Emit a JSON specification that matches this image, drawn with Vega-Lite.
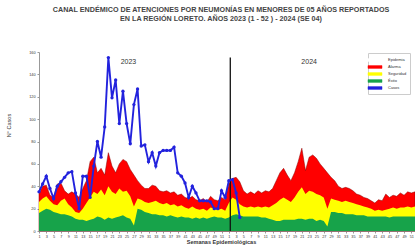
{
  "$schema": "https://vega.github.io/schema/vega-lite/v6.json",
  "width": 376,
  "height": 179,
  "autosize": {"type": "none"},
  "padding": {"left": 39, "top": 52, "right": 0, "bottom": 15},
  "background": "white",
  "config": {"view": {"stroke": null}, "font": "Liberation Sans", "axis": {"labelOverlap": false, "labelBound": false, "labelFlush": false}},
  "title": {
    "text": ["CANAL ENDÉMICO DE ATENCIONES POR NEUMONÍAS EN MENORES DE 05 AÑOS REPORTADOS", "EN LA REGIÓN LORETO. AÑOS 2023 (1 - 52 ) - 2024 (SE 04)"],
    "fontSize": 7.2,
    "fontWeight": "bold",
    "color": "#444444",
    "anchor": "middle",
    "frame": "group",
    "dx": -6,
    "offset": 28,
    "lineHeight": 9
  },
  "datasets": {
    "canal": [
      {"i":1,"Exito":16,"Seguridad":26,"Alarma":33},
      {"i":2,"Exito":18,"Seguridad":29,"Alarma":40},
      {"i":3,"Exito":20,"Seguridad":31,"Alarma":41},
      {"i":4,"Exito":19,"Seguridad":27,"Alarma":32},
      {"i":5,"Exito":17,"Seguridad":24,"Alarma":30},
      {"i":6,"Exito":16,"Seguridad":23,"Alarma":42},
      {"i":7,"Exito":15,"Seguridad":27,"Alarma":43},
      {"i":8,"Exito":15,"Seguridad":29,"Alarma":36},
      {"i":9,"Exito":14,"Seguridad":24,"Alarma":33},
      {"i":10,"Exito":13,"Seguridad":21,"Alarma":35},
      {"i":11,"Exito":11,"Seguridad":17,"Alarma":33},
      {"i":12,"Exito":10,"Seguridad":16,"Alarma":30},
      {"i":13,"Exito":10,"Seguridad":20,"Alarma":38},
      {"i":14,"Exito":9,"Seguridad":25,"Alarma":45},
      {"i":15,"Exito":10,"Seguridad":30,"Alarma":62},
      {"i":16,"Exito":11,"Seguridad":35,"Alarma":66},
      {"i":17,"Exito":13,"Seguridad":33,"Alarma":52},
      {"i":18,"Exito":12,"Seguridad":37,"Alarma":56},
      {"i":19,"Exito":10,"Seguridad":32,"Alarma":50},
      {"i":20,"Exito":12,"Seguridad":40,"Alarma":70},
      {"i":21,"Exito":11,"Seguridad":35,"Alarma":58},
      {"i":22,"Exito":12,"Seguridad":33,"Alarma":52},
      {"i":23,"Exito":13,"Seguridad":38,"Alarma":60},
      {"i":24,"Exito":14,"Seguridad":35,"Alarma":64},
      {"i":25,"Exito":12,"Seguridad":36,"Alarma":62},
      {"i":26,"Exito":11,"Seguridad":31,"Alarma":55},
      {"i":27,"Exito":5,"Seguridad":22,"Alarma":50},
      {"i":28,"Exito":20,"Seguridad":29,"Alarma":45},
      {"i":29,"Exito":19,"Seguridad":28,"Alarma":41},
      {"i":30,"Exito":17,"Seguridad":26,"Alarma":38},
      {"i":31,"Exito":16,"Seguridad":25,"Alarma":38},
      {"i":32,"Exito":15,"Seguridad":26,"Alarma":41},
      {"i":33,"Exito":15,"Seguridad":27,"Alarma":40},
      {"i":34,"Exito":14,"Seguridad":25,"Alarma":36},
      {"i":35,"Exito":14,"Seguridad":24,"Alarma":35},
      {"i":36,"Exito":13,"Seguridad":25,"Alarma":36},
      {"i":37,"Exito":14,"Seguridad":23,"Alarma":34},
      {"i":38,"Exito":13,"Seguridad":24,"Alarma":35},
      {"i":39,"Exito":12,"Seguridad":22,"Alarma":32},
      {"i":40,"Exito":13,"Seguridad":23,"Alarma":33},
      {"i":41,"Exito":12,"Seguridad":21,"Alarma":30},
      {"i":42,"Exito":12,"Seguridad":20,"Alarma":29},
      {"i":43,"Exito":11,"Seguridad":22,"Alarma":31},
      {"i":44,"Exito":12,"Seguridad":20,"Alarma":28},
      {"i":45,"Exito":11,"Seguridad":19,"Alarma":27},
      {"i":46,"Exito":12,"Seguridad":20,"Alarma":29},
      {"i":47,"Exito":11,"Seguridad":18,"Alarma":26},
      {"i":48,"Exito":12,"Seguridad":21,"Alarma":31},
      {"i":49,"Exito":13,"Seguridad":20,"Alarma":28},
      {"i":50,"Exito":12,"Seguridad":19,"Alarma":27},
      {"i":51,"Exito":12,"Seguridad":20,"Alarma":30},
      {"i":52,"Exito":11,"Seguridad":18,"Alarma":28},
      {"i":53,"Exito":12,"Seguridad":25,"Alarma":42},
      {"i":54,"Exito":14,"Seguridad":30,"Alarma":47},
      {"i":55,"Exito":15,"Seguridad":28,"Alarma":48},
      {"i":56,"Exito":14,"Seguridad":24,"Alarma":44},
      {"i":57,"Exito":13,"Seguridad":22,"Alarma":36},
      {"i":58,"Exito":13,"Seguridad":21,"Alarma":33},
      {"i":59,"Exito":13,"Seguridad":22,"Alarma":35},
      {"i":60,"Exito":13,"Seguridad":21,"Alarma":33},
      {"i":61,"Exito":13,"Seguridad":22,"Alarma":36},
      {"i":62,"Exito":12,"Seguridad":21,"Alarma":34},
      {"i":63,"Exito":12,"Seguridad":22,"Alarma":36},
      {"i":64,"Exito":11,"Seguridad":21,"Alarma":35},
      {"i":65,"Exito":10,"Seguridad":23,"Alarma":38},
      {"i":66,"Exito":9,"Seguridad":25,"Alarma":45},
      {"i":67,"Exito":9,"Seguridad":28,"Alarma":52},
      {"i":68,"Exito":10,"Seguridad":30,"Alarma":56},
      {"i":69,"Exito":10,"Seguridad":28,"Alarma":50},
      {"i":70,"Exito":10,"Seguridad":26,"Alarma":45},
      {"i":71,"Exito":10,"Seguridad":30,"Alarma":52},
      {"i":72,"Exito":11,"Seguridad":35,"Alarma":62},
      {"i":73,"Exito":11,"Seguridad":39,"Alarma":74},
      {"i":74,"Exito":10,"Seguridad":33,"Alarma":54},
      {"i":75,"Exito":11,"Seguridad":36,"Alarma":66},
      {"i":76,"Exito":11,"Seguridad":35,"Alarma":68},
      {"i":77,"Exito":9,"Seguridad":33,"Alarma":65},
      {"i":78,"Exito":10,"Seguridad":32,"Alarma":60},
      {"i":79,"Exito":9,"Seguridad":30,"Alarma":56},
      {"i":80,"Exito":4,"Seguridad":20,"Alarma":52},
      {"i":81,"Exito":17,"Seguridad":29,"Alarma":48},
      {"i":82,"Exito":17,"Seguridad":28,"Alarma":45},
      {"i":83,"Exito":16,"Seguridad":27,"Alarma":40},
      {"i":84,"Exito":16,"Seguridad":26,"Alarma":38},
      {"i":85,"Exito":15,"Seguridad":27,"Alarma":39},
      {"i":86,"Exito":15,"Seguridad":26,"Alarma":38},
      {"i":87,"Exito":15,"Seguridad":25,"Alarma":36},
      {"i":88,"Exito":14,"Seguridad":24,"Alarma":33},
      {"i":89,"Exito":14,"Seguridad":23,"Alarma":32},
      {"i":90,"Exito":14,"Seguridad":22,"Alarma":30},
      {"i":91,"Exito":13,"Seguridad":21,"Alarma":29},
      {"i":92,"Exito":13,"Seguridad":20,"Alarma":27},
      {"i":93,"Exito":13,"Seguridad":18,"Alarma":25},
      {"i":94,"Exito":13,"Seguridad":19,"Alarma":28},
      {"i":95,"Exito":13,"Seguridad":18,"Alarma":27},
      {"i":96,"Exito":13,"Seguridad":19,"Alarma":33},
      {"i":97,"Exito":12,"Seguridad":20,"Alarma":30},
      {"i":98,"Exito":13,"Seguridad":21,"Alarma":32},
      {"i":99,"Exito":13,"Seguridad":20,"Alarma":31},
      {"i":100,"Exito":13,"Seguridad":21,"Alarma":34},
      {"i":101,"Exito":13,"Seguridad":21,"Alarma":32},
      {"i":102,"Exito":13,"Seguridad":22,"Alarma":35},
      {"i":103,"Exito":13,"Seguridad":21,"Alarma":34},
      {"i":104,"Exito":13,"Seguridad":22,"Alarma":35}
    ],
    "casos": [
      {"i":1,"v":35},{"i":2,"v":42},{"i":3,"v":49},{"i":4,"v":38},
      {"i":5,"v":29},{"i":6,"v":40},{"i":7,"v":44},{"i":8,"v":48},
      {"i":9,"v":52},{"i":10,"v":53},{"i":11,"v":34},{"i":12,"v":20},
      {"i":13,"v":49},{"i":14,"v":49},{"i":15,"v":30},{"i":16,"v":58},
      {"i":17,"v":80},{"i":18,"v":66},{"i":19,"v":93},{"i":20,"v":155},
      {"i":21,"v":119},{"i":22,"v":135},{"i":23,"v":96},{"i":24,"v":125},
      {"i":25,"v":96},{"i":26,"v":78},{"i":27,"v":113},{"i":28,"v":127},
      {"i":29,"v":76},{"i":30,"v":77},{"i":31,"v":62},{"i":32,"v":70},
      {"i":33,"v":58},{"i":34,"v":70},{"i":35,"v":72},{"i":36,"v":72},
      {"i":37,"v":72},{"i":38,"v":75},{"i":39,"v":52},{"i":40,"v":49},
      {"i":41,"v":43},{"i":42,"v":30},{"i":43,"v":40},{"i":44,"v":34},
      {"i":45,"v":27},{"i":46,"v":27},{"i":47,"v":27},{"i":48,"v":26},
      {"i":49,"v":20},{"i":50,"v":20},{"i":51,"v":36},{"i":52,"v":30},
      {"i":53,"v":45},{"i":54,"v":46},{"i":55,"v":34},{"i":56,"v":12}
    ],
    "corte": [{"i":53.4,"v":155}],
    "anios": [{"i":25.5,"v":151,"t":"2023"},{"i":75,"v":151,"t":"2024"}]
  },
  "encoding": {
    "x": {
      "field": "i", "type": "quantitative",
      "scale": {"domain": [1, 104], "nice": false, "zero": false},
      "axis": {
        "title": "Semanas Epidemiológicas",
        "titleFontSize": 5.5, "titleFontWeight": "bold", "titleColor": "#333",
        "titleX": 182, "titleY": 8, "titleBaseline": "top",
        "values": [1,3,5,7,9,11,13,15,17,19,21,23,25,27,29,31,33,35,37,39,41,43,45,47,49,51,53,55,57,59,61,63,65,67,69,71,73,75,77,79,81,83,85,87,89,91,93,95,97,99,101,103],
        "labelExpr": "(datum.value - 1) % 52 + 1",
        "labelFontSize": 3.8, "labelColor": "#333", "labelOverlap": false, "labelAngle": 0,
        "labelPadding": 1, "labelFlush": false, "labelBound": false,
        "tickSize": 2, "tickColor": "#999", "domainColor": "#999", "grid": false
      }
    },
    "y": {
      "field": "v", "type": "quantitative",
      "scale": {"domain": [0, 160], "nice": false},
      "axis": {
        "title": "N° Casos",
        "titleFontSize": 5.5, "titleFontWeight": "normal", "titleColor": "#333",
        "titleX": -31, "titleY": 73, "titleAngle": -90, "titleAlign": "center", "titleBaseline": "middle",
        "values": [0,20,40,60,80,100,120,140,160],
        "labelFontSize": 3.8, "labelColor": "#333", "labelPadding": 2, "labelOverlap": false, "labelFlush": false, "labelBound": false,
        "tickSize": 2, "tickColor": "#999", "domainColor": "#999", "grid": false
      }
    }
  },
  "layer": [
    {
      "data": {"name": "canal"},
      "transform": [{"fold": ["Alarma"], "as": ["serie", "v"]}],
      "mark": {"type": "area", "stroke": "#8b0000", "strokeWidth": 0.5},
      "encoding": {
        "color": {
          "datum": "Alarma",
          "scale": {
            "domain": ["Epidemia", "Alarma", "Seguridad", "Éxito", "Casos"],
            "range": ["#ffffff", "#ff0000", "#ffff00", "#17a34a", "#2222dd"]
          },
          "legend": {
            "title": null, "orient": "none", "legendX": 329, "legendY": 1,
            "symbolType": "M-2,-0.4H2V0.4H-2Z", "symbolSize": 49,
            "symbolStrokeColor": "#999", "symbolStrokeWidth": 0.5, "symbolOpacity": 1,
            "labelFontSize": 4, "labelColor": "#333", "labelOffset": 9,
            "rowPadding": 0, "padding": 3, "offset": 0, "strokeColor": "#cccccc", "fillColor": "#ffffff"
          }
        }
      }
    },
    {
      "data": {"name": "canal"},
      "transform": [{"fold": ["Seguridad"], "as": ["serie", "v"]}],
      "mark": {"type": "area"},
      "encoding": {"color": {"datum": "Seguridad"}}
    },
    {
      "data": {"name": "canal"},
      "transform": [{"fold": ["Exito"], "as": ["serie", "v"]}],
      "mark": {"type": "area"},
      "encoding": {"color": {"datum": "Éxito"}}
    },
    {
      "data": {"name": "corte"},
      "mark": {"type": "rule", "color": "#111111", "strokeWidth": 1.3},
      "encoding": {"y2": {"datum": 0}}
    },
    {
      "data": {"name": "casos"},
      "mark": {"type": "line", "strokeWidth": 1.9, "point": {"filled": true, "size": 11, "color": "#101090"}},
      "encoding": {"color": {"datum": "Casos"}}
    },
    {
      "data": {"name": "anios"},
      "mark": {"type": "text", "fontSize": 7, "color": "#333333"},
      "encoding": {"text": {"field": "t"}}
    }
  ]
}
